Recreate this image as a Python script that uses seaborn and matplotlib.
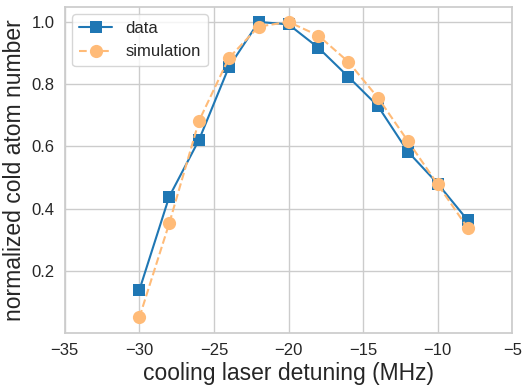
import matplotlib
matplotlib.use("Agg")
import matplotlib.pyplot as plt
import seaborn as sns

# detuning (MHz)
detuning = [-30, -28, -26, -24, -22, -20, -18, -16, -14, -12, -10, -8]
data_vals = [0.138, 0.438, 0.621, 0.855, 1.0, 0.992, 0.917, 0.824, 0.729, 0.583, 0.480, 0.363]
sim_vals = [0.050, 0.352, 0.682, 0.884, 0.985, 1.0, 0.956, 0.872, 0.756, 0.617, 0.478, 0.338]

sns.set_theme(style="whitegrid")
plt.rcParams["font.family"] = ["Liberation Sans", "DejaVu Sans"]

fig = plt.figure(figsize=(5.27, 3.88), dpi=100)
ax = fig.add_axes([0.123, 0.142, 0.849, 0.840])

sns.lineplot(x=detuning, y=data_vals, ax=ax, color="#1f77b4", marker="s",
             markersize=9, markeredgewidth=0, linewidth=1.5, label="data")
sns.lineplot(x=detuning, y=sim_vals, ax=ax, color="#ffbb78", marker="o",
             markersize=9.5, markeredgewidth=0, linewidth=1.5, linestyle="--",
             label="simulation")

ax.set_xlim(-35, -5)
ax.set_ylim(0, 1.048)
ax.set_xticks([-35, -30, -25, -20, -15, -10, -5])
ax.set_yticks([0.2, 0.4, 0.6, 0.8, 1.0])
ax.tick_params(labelsize=12, length=0, pad=7.5)
ax.set_xlabel("cooling laser detuning (MHz)", fontsize=16.5, labelpad=3)
ax.set_ylabel("normalized cold atom number", fontsize=16.5, labelpad=4)
ax.legend(loc="upper left", fontsize=12, borderaxespad=0.45)

fig.savefig("out.png", dpi=100)
